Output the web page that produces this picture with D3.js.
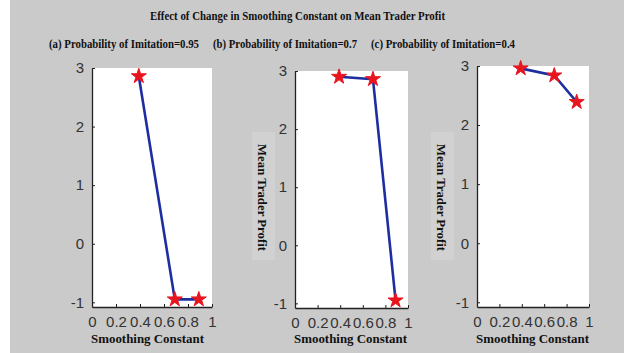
<!DOCTYPE html>
<html>
<head>
<meta charset="utf-8">
<script src="https://cdn.jsdelivr.net/npm/d3@7"></script>
<style>
  html, body { margin: 0; padding: 0; background: #fff; }
  svg { display: block; }
</style>
</head>
<body>
<div id="chart"></div>
<script>
// data
const smoothing = [0.39, 0.69, 0.89];
const profitA = [2.86, -0.95, -0.95];
const profitB = [2.90, 2.86, -0.95];
const profitC = [2.96, 2.84, 2.39];
const panelTitles = [
  '(a) Probability of Imitation=0.95',
  '(b) Probability of Imitation=0.7',
  '(c) Probability of Imitation=0.4'
];
const xTicks = [0, 0.2, 0.4, 0.6, 0.8, 1];
const yTicks = [-1, 0, 1, 2, 3];
const mainTitle = 'Effect of Change in Smoothing Constant on Mean Trader Profit';

const width = 624, height = 353;
const bg = '#cacaca';

const svg = d3.select('#chart').append('svg')
  .attr('width', width)
  .attr('height', height);

svg.append('rect').attr('width', width).attr('height', height).attr('fill', '#fff');
svg.append('rect').attr('x', 10).attr('width', width - 10).attr('height', height).attr('fill', bg);

// main title
svg.append('text')
  .attr('x', 150).attr('y', 20)
  .attr('textLength', 295).attr('lengthAdjust', 'spacingAndGlyphs')
  .style('font-family', '"Liberation Serif", serif')
  .style('font-weight', 'bold').style('font-size', '12px')
  .attr('fill', '#111')
  .text(mainTitle);

// panel boxes (layout only)
const panels = [
  { values: profitA, left: 92, right: 212, top: 68, bottom: 307, titleX: 49, titleW: 150, ylab: false },
  { values: profitB, left: 295, right: 408, top: 71, bottom: 308, titleX: 213, titleW: 144, ylab: true, ylabX: 263 },
  { values: profitC, left: 477, right: 589, top: 66, bottom: 307, titleX: 371, titleW: 144, ylab: true, ylabX: 442 }
];

panels.forEach((p, i) => {
  const x = d3.scaleLinear().domain([0, 1]).range([p.left, p.right]);
  const y = d3.scaleLinear().domain([-1.08, 3]).range([p.bottom, p.top]);

  svg.append('text')
    .attr('x', p.titleX).attr('y', 48)
    .attr('textLength', p.titleW).attr('lengthAdjust', 'spacingAndGlyphs')
    .style('font-family', '"Liberation Serif", serif')
    .style('font-weight', 'bold').style('font-size', '12px')
    .attr('fill', '#111')
    .text(panelTitles[i]);

  // white plotting area
  svg.append('rect')
    .attr('x', p.left).attr('y', p.top)
    .attr('width', p.right - p.left).attr('height', p.bottom - p.top)
    .attr('fill', '#fff');

  const xAxis = svg.append('g')
    .attr('transform', 'translate(0,' + p.bottom + ')')
    .call(d3.axisBottom(x).tickValues(xTicks).tickSizeInner(-3).tickSizeOuter(0)
      .tickPadding(9).tickFormat(d => String(d)));
  xAxis.select('.domain').attr('stroke', '#222').attr('stroke-width', 1.3);
  xAxis.selectAll('.tick line').attr('stroke', '#222');
  xAxis.selectAll('.tick text')
    .style('font-family', '"Liberation Sans", Arial, sans-serif')
    .style('font-size', '15px').attr('fill', '#333');

  const yAxis = svg.append('g')
    .attr('transform', 'translate(' + p.left + ',0)')
    .call(d3.axisLeft(y).tickValues(yTicks).tickSizeInner(-3).tickSizeOuter(0)
      .tickPadding(8).tickFormat(d => String(d)));
  yAxis.select('.domain').attr('stroke', '#222').attr('stroke-width', 1.3);
  yAxis.selectAll('.tick line').attr('stroke', '#222');
  yAxis.selectAll('.tick text')
    .style('font-family', '"Liberation Sans", Arial, sans-serif')
    .style('font-size', '15px').attr('fill', '#333');

  // x label
  svg.append('text')
    .attr('x', p.left - 1).attr('y', 343)
    .attr('textLength', 113).attr('lengthAdjust', 'spacingAndGlyphs')
    .style('font-family', '"Liberation Serif", serif')
    .style('font-weight', 'bold').style('font-size', '13px')
    .attr('fill', '#111')
    .text('Smoothing Constant');

  if (p.ylab) {
    svg.append('rect')
      .attr('x', p.ylabX - 11).attr('y', 132).attr('width', 23).attr('height', 128)
      .attr('fill', '#d1d1d1');
    svg.append('text')
      .attr('transform', 'translate(' + (p.ylabX - 5) + ',' + 144 + ') rotate(90)')
      .attr('textLength', 107).attr('lengthAdjust', 'spacingAndGlyphs')
      .style('font-family', '"Liberation Serif", serif')
      .style('font-weight', 'bold').style('font-size', '13px')
      .attr('fill', '#111')
      .text('Mean Trader Profit');
  }

  const pts = smoothing.map((s, j) => [s, p.values[j]]);
  const line = d3.line().x(d => x(d[0])).y(d => y(d[1]));
  svg.append('path')
    .datum(pts)
    .attr('d', line)
    .attr('fill', 'none')
    .attr('stroke', '#1c2ea0')
    .attr('stroke-width', 2.6);

  svg.selectAll(null)
    .data(pts)
    .enter().append('path')
    .attr('transform', d => 'translate(' + x(d[0]) + ',' + y(d[1]) + ')')
    .attr('d', d3.symbol(d3.symbolStar, 70))
    .attr('fill', '#e8151f')
    .attr('stroke', '#e8151f')
    .attr('stroke-width', 1);
});
</script>
</body>
</html>
